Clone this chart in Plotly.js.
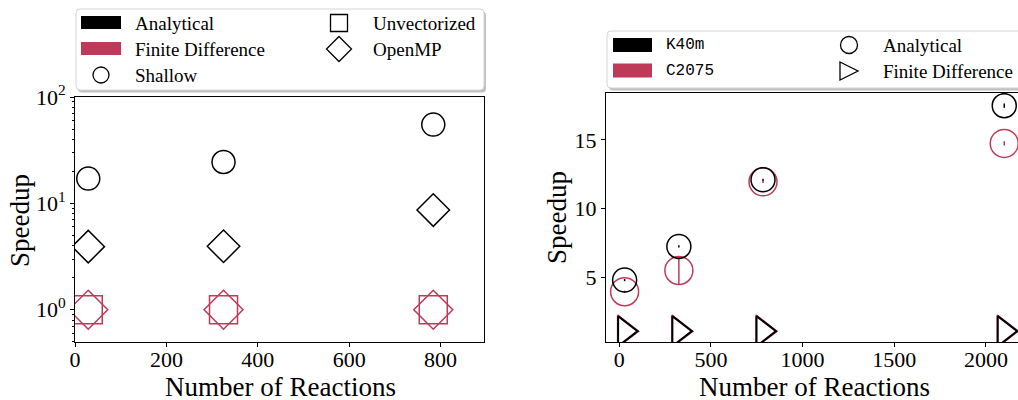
<!DOCTYPE html>
<html>
<head>
<meta charset="utf-8">
<script src="https://cdn.plot.ly/plotly-3.0.1.min.js"></script>
<style>html,body{margin:0;padding:0;background:#fff}#chart{width:1018px;height:400px}</style>
</head>
<body>
<div id="chart"></div>
<script>
// ---------------- data ----------------
// Left panel (log scale)
const leftReactions = [29, 325, 784];
const analyticalShallow = [17.1, 24.5, 55];
const analyticalOpenMP = [3.92, 3.95, 8.65];
const fdUnvectorized = [1, 1, 1];
const fdOpenMP = [1, 1, 1];

// Right panel (linear scale)
const rightReactions = [29, 325, 784, 2100];
const k40mAnalytical = [4.8, 7.25, 12.1, 17.5];
const k40mAnalyticalErr = [0.08, 0.08, 0.08, 0.15];
const c2075Analytical = [3.95, 5.5, 11.95, 14.75];
const c2075AnalyticalErr = [0.08, 1.0, 0.08, 0.15];
const k40mFD = [1.08, 1.08, 1.08, 1.08];
const c2075FD = [1.08, 1.08, 1.08, 1.08];

const leftLegendLabels = ["Analytical", "Finite Difference", "Shallow", "Unvectorized", "OpenMP"];
const rightLegendLabels = ["K40m", "C2075", "Analytical", "Finite Difference"];
const xTitle = "Number of Reactions";
const yTitle = "Speedup";
const logTickVals = [1, 10, 100];
const logTickText = ["10<sup>0</sup>", "10<sup>1</sup>", "10<sup>2</sup>"];

// ---------------- styling ----------------
const W = 1018, H = 400;
const BLACK = "#000000";
const RED = "#be3a58";
const SERIF = "'Liberation Serif', 'Times New Roman', serif";
const MONO = "'Liberation Mono', 'DejaVu Sans Mono', monospace";
const px = x => x / W;
const py = y => 1 - y / H;
const none = "rgba(0,0,0,0)";

function mk(x, y, xa, ya, symbol, size, color, lw, err) {
  const t = {
    type: "scatter", mode: "markers", x: x, y: y, xaxis: xa, yaxis: ya,
    showlegend: false, hoverinfo: "skip",
    marker: { symbol: symbol, size: size, color: none, line: { color: color, width: lw } }
  };
  if (err) t.error_y = { type: "data", array: err, visible: true, width: 0, thickness: 1.5, color: color };
  return t;
}

const traces = [
  mk(leftReactions, fdUnvectorized, "x", "y", "square", 28, RED, 1.5),
  mk(leftReactions, fdOpenMP, "x", "y", "diamond", 30, RED, 1.5),
  mk(leftReactions, analyticalOpenMP, "x", "y", "diamond", 25, BLACK, 1.5),
  mk(leftReactions, analyticalShallow, "x", "y", "circle", 23, BLACK, 1.5),
  mk(rightReactions, c2075FD, "x2", "y2", "triangle-right", 28, RED, 1.5),
  mk(rightReactions, k40mFD, "x2", "y2", "triangle-right", 26, BLACK, 2),
  mk(rightReactions, c2075Analytical, "x2", "y2", "circle", 28, RED, 1.5, c2075AnalyticalErr),
  mk(rightReactions, k40mAnalytical, "x2", "y2", "circle", 24, BLACK, 1.5, k40mAnalyticalErr)
];

// ---------------- legend decorations ----------------
function rrect(x0, y0, x1, y1, r) {
  const P = (x, y) => px(x) + "," + py(y);
  return "M" + P(x0 + r, y0) + " L" + P(x1 - r, y0) + " Q" + P(x1, y0) + " " + P(x1, y0 + r) +
    " L" + P(x1, y1 - r) + " Q" + P(x1, y1) + " " + P(x1 - r, y1) +
    " L" + P(x0 + r, y1) + " Q" + P(x0, y1) + " " + P(x0, y1 - r) +
    " L" + P(x0, y0 + r) + " Q" + P(x0, y0) + " " + P(x0 + r, y0) + " Z";
}
function poly(pts) {
  return "M" + pts.map(p => px(p[0]) + "," + py(p[1])).join(" L") + " Z";
}
function box(x0, y0, x1, y1, fill) {
  return { type: "rect", xref: "paper", yref: "paper", x0: px(x0), x1: px(x1), y0: py(y1), y1: py(y0),
    fillcolor: fill, line: { width: 0 } };
}
const shapes = [];
function legendFrame(x0, y0, x1, y1) {
  shapes.push({ type: "path", xref: "paper", yref: "paper", path: rrect(x0 + 2, y0 + 2.5, x1 + 2, y1 + 2.5, 4),
    fillcolor: "rgba(140,140,140,0.55)", line: { width: 0 } });
  shapes.push({ type: "path", xref: "paper", yref: "paper", path: rrect(x0, y0, x1, y1, 4),
    fillcolor: "#ffffff", line: { color: "#d4d4d4", width: 1 } });
}
// left legend
legendFrame(76, 9, 484, 90);
shapes.push(box(81, 16, 121, 29, BLACK));
shapes.push(box(81, 42, 121, 55, RED));
shapes.push({ type: "circle", xref: "paper", yref: "paper", x0: px(93), x1: px(109), y0: py(83), y1: py(67),
  line: { color: BLACK, width: 1.3 }, fillcolor: none });
shapes.push({ type: "rect", xref: "paper", yref: "paper", x0: px(330.5), x1: px(347.5), y0: py(31.5), y1: py(14.5),
  line: { color: BLACK, width: 1.3 }, fillcolor: none });
shapes.push({ type: "path", xref: "paper", yref: "paper", path: poly([[339, 36.5], [351.5, 49], [339, 61.5], [326.5, 49]]),
  line: { color: BLACK, width: 1.3 }, fillcolor: none });
// right legend
legendFrame(607, 31, 1030, 88);
shapes.push(box(613, 38, 652, 52, BLACK));
shapes.push(box(613, 63.5, 652, 77.5, RED));
shapes.push({ type: "circle", xref: "paper", yref: "paper", x0: px(840.5), x1: px(857.5), y0: py(53.5), y1: py(36.5),
  line: { color: BLACK, width: 1.3 }, fillcolor: none });
shapes.push({ type: "path", xref: "paper", yref: "paper", path: poly([[840, 62], [858, 71], [840, 80]]),
  line: { color: BLACK, width: 1.3 }, fillcolor: none });

function txt(text, x, y, size, family, opts) {
  return Object.assign({ xref: "paper", yref: "paper", x: px(x), y: py(y), text: text, showarrow: false,
    xanchor: "left", yanchor: "middle", font: { family: family, size: size, color: "#000" } }, opts || {});
}
const annotations = [
  txt(leftLegendLabels[0], 133, 23, 19, SERIF),
  txt(leftLegendLabels[1], 133, 49, 19, SERIF),
  txt(leftLegendLabels[2], 133, 75, 19, SERIF),
  txt(leftLegendLabels[3], 371, 23, 19, SERIF),
  txt(leftLegendLabels[4], 371, 49, 19, SERIF),
  txt(rightLegendLabels[0], 664, 45, 16, MONO),
  txt(rightLegendLabels[1], 664, 71, 16, MONO),
  txt(rightLegendLabels[2], 881, 45, 19, SERIF),
  txt(rightLegendLabels[3], 881, 71, 19, SERIF),
  txt(xTitle, 280, 387, 27, SERIF, { xanchor: "center", borderpad: 0 }),
  txt(xTitle, 814, 387, 27, SERIF, { xanchor: "center", borderpad: 0 }),
  txt(yTitle, 20, 221, 27, SERIF, { xanchor: "center", textangle: -90 }),
  txt(yTitle, 557, 218, 27, SERIF, { xanchor: "center", textangle: -90 })
];

const axisCommon = {
  showline: true, mirror: true, linecolor: "#000", linewidth: 1, showgrid: false, zeroline: false,
  ticks: "outside", ticklen: 4, tickwidth: 1, tickcolor: "#000",
  tickfont: { family: SERIF, size: 22, color: "#000" }
};

const layout = {
  width: W, height: H, autosize: false,
  margin: { l: 0, r: 0, t: 0, b: 0 },
  paper_bgcolor: "#fff", plot_bgcolor: "#fff",
  font: { family: SERIF, size: 22, color: "#000" },
  xaxis: Object.assign({}, axisCommon, { domain: [px(75), px(484)], range: [0, 895], anchor: "y",
    tickmode: "array", tickvals: [0, 200, 400, 600, 800], ticklabelstandoff: -6 }),
  yaxis: Object.assign({}, axisCommon, { domain: [py(342), py(97)], type: "log", range: [-0.303, 2], anchor: "x",
    tickmode: "array", tickvals: logTickVals, ticktext: logTickText,
    minor: { ticks: "outside", ticklen: 2, tickcolor: "#000", tickmode: "array",
      tickvals: [0.5, 0.6, 0.7, 0.8, 0.9, 2, 3, 4, 5, 6, 7, 8, 9, 20, 30, 40, 50, 60, 70, 80, 90], showgrid: false } }),
  xaxis2: Object.assign({}, axisCommon, { domain: [px(606), 1], range: [-72.5, 2175], anchor: "y2",
    tickmode: "array", tickvals: [0, 500, 1000, 1500, 2000], ticklabelstandoff: -6 }),
  yaxis2: Object.assign({}, axisCommon, { domain: [py(342), py(93)], range: [0.29, 18.42], anchor: "x2",
    tickmode: "array", tickvals: [5, 10, 15] }),
  shapes: shapes,
  annotations: annotations
};

Plotly.newPlot("chart", traces, layout, { staticPlot: true, displayModeBar: false });
</script>
</body>
</html>
